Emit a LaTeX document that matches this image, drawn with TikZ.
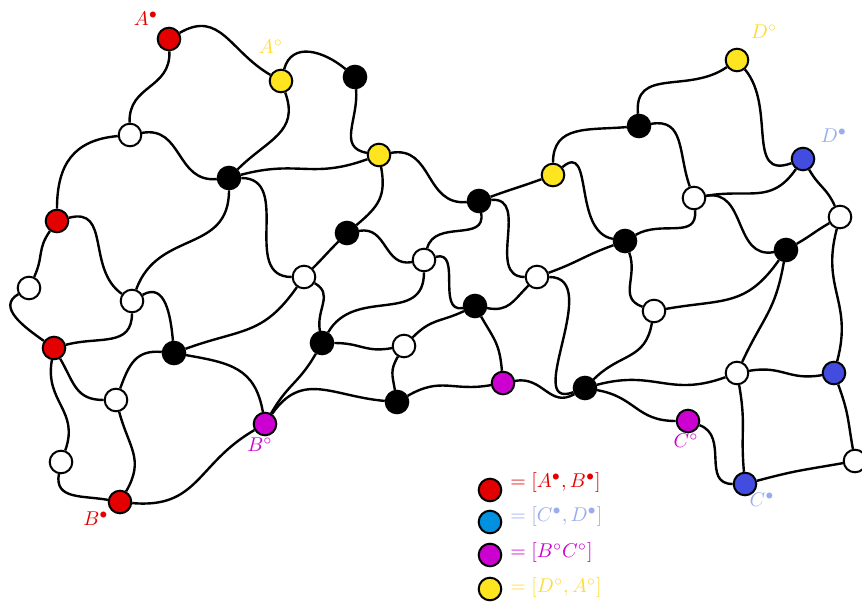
\documentclass[tikz,border=0pt]{standalone}
\usepackage{amsmath,amssymb}
\usepackage{tikz}
\usetikzlibrary{arrows}

\definecolor{nred}{rgb}{0.89,0.0,0.0}
\definecolor{nyellow}{rgb}{1.0,0.9,0.12}
\definecolor{nmag}{rgb}{0.8,0.0,0.82}
\definecolor{nblue}{rgb}{0.26,0.3,0.87}
\definecolor{ncyan}{rgb}{0.0,0.57,0.88}
\definecolor{lblue}{rgb}{0.6,0.68,0.93}
\definecolor{lyellow}{rgb}{1.0,0.86,0.2}

\begin{document}
\begin{tikzpicture}[line join=bevel,
  vtx/.style={circle,draw=black,line width=1bp,minimum size=11.3bp,inner sep=0pt},
  wv/.style={vtx,fill=white},
  kv/.style={vtx,fill=black},
  rv/.style={vtx,fill=nred},
  yv/.style={vtx,fill=nyellow},
  mv/.style={vtx,fill=nmag},
  uv/.style={vtx,fill=nblue},
  cv/.style={vtx,fill=ncyan},
  lnk/.style={line width=1.2bp,looseness=1.2},
  tag/.style={inner sep=1pt}]
\useasboundingbox (0bp,0bp) rectangle (431bp,301.5bp);
\node[rv] (r1) at (84.5bp,282bp) {};
\node[rv] (r2) at (28.5bp,191bp) {};
\node[rv] (r3) at (27bp,127.5bp) {};
\node[rv] (r4) at (60bp,50.5bp) {};
\node[yv] (y1) at (140.5bp,261bp) {};
\node[yv] (y2) at (189.5bp,224bp) {};
\node[yv] (y3) at (276.5bp,214bp) {};
\node[yv] (y4) at (368.5bp,271.5bp) {};
\node[kv] (k1) at (177.5bp,263bp) {};
\node[kv] (k2) at (114.5bp,212.5bp) {};
\node[kv] (k3) at (173.5bp,185bp) {};
\node[kv] (k4) at (239.5bp,201bp) {};
\node[kv] (k5) at (87bp,125bp) {};
\node[kv] (k6) at (161bp,130bp) {};
\node[kv] (k7) at (237.5bp,148.5bp) {};
\node[kv] (k8) at (198.5bp,100.5bp) {};
\node[kv] (k9) at (319.5bp,238.5bp) {};
\node[kv] (k10) at (312.5bp,181bp) {};
\node[kv] (k11) at (393bp,176.5bp) {};
\node[kv] (k12) at (292.5bp,107.5bp) {};
\node[wv] (w1) at (65bp,234bp) {};
\node[wv] (w2) at (14.5bp,157.5bp) {};
\node[wv] (w3) at (66bp,151bp) {};
\node[wv] (w4) at (58bp,101.5bp) {};
\node[wv] (w5) at (30.5bp,70.5bp) {};
\node[wv] (w6) at (152bp,163bp) {};
\node[wv] (w7) at (212bp,171.5bp) {};
\node[wv] (w8) at (202bp,128.5bp) {};
\node[wv] (w9) at (268.5bp,163bp) {};
\node[wv] (w10) at (347bp,202.5bp) {};
\node[wv] (w11) at (420bp,193bp) {};
\node[wv] (w12) at (327bp,146bp) {};
\node[wv] (w13) at (368.5bp,115bp) {};
\node[wv] (w14) at (427.5bp,71bp) {};
\node[mv] (m1) at (132.5bp,89.5bp) {};
\node[mv] (m2) at (251.5bp,110bp) {};
\node[mv] (m3) at (344bp,91bp) {};
\node[uv] (u1) at (401.5bp,222bp) {};
\node[uv] (u2) at (417bp,115bp) {};
\node[uv] (u3) at (372.5bp,59.5bp) {};

\node[tag,text=nred] (tA1) at (73bp,292bp) {$A^\bullet$};
\node[tag,text=lyellow] (tA2) at (135.5bp,278bp) {$A^\circ$};
\node[tag,text=lyellow] (tD2) at (382bp,285.5bp) {$D^\circ$};
\node[tag,text=lblue] (tD1) at (417bp,233.5bp) {$D^\bullet$};
\node[tag,text=nmag] (tB2) at (130bp,79bp) {$B^\circ$};
\node[tag,text=nred] (tB1) at (48bp,42bp) {$B^\bullet$};
\node[tag,text=nmag] (tC2) at (343bp,81bp) {$C^\circ$};
\node[tag,text=lblue] (tC1) at (381bp,51.5bp) {$C^\bullet$};

\draw[lnk] (r1) to[out=30,in=150] (y1);
\draw[lnk] (r1) to[out=-88,in=92] (w1);
\draw[lnk] (w1) to[out=185,in=90] (r2);
\draw[lnk] (w1) to[out=10,in=185] (k2);
\draw[lnk] (y1) to[out=75,in=140] (k1);
\draw[lnk] (y1) to[out=-70,in=45] (k2);
\draw[lnk] (k1) to[out=-85,in=170] (y2);
\draw[lnk] (k2) to[out=15,in=200] (y2);
\draw[lnk] (k2) to[out=0,in=180] (w6);
\draw[lnk] (k2) to[out=-90,in=70] (w3);
\draw[lnk] (r2) to[out=15,in=145] (w3);
\draw[lnk] (r2) to[out=-125,in=65] (w2);
\draw[lnk] (w2) to[out=-150,in=145] (r3);
\draw[lnk] (w3) to[out=30,in=95] (k5);
\draw[lnk] (w3) to[out=-90,in=15] (r3);
\draw[lnk] (r3) to[out=-60,in=180] (w4);
\draw[lnk] (r3) to[out=-100,in=70] (w5);
\draw[lnk] (w4) to[out=70,in=175] (k5);
\draw[lnk] (w4) to[out=-75,in=60] (r4);
\draw[lnk] (w5) to[out=-100,in=170] (r4);
\draw[lnk] (r4) to[out=-5,in=210] (m1);
\draw[lnk] (k5) to[out=20,in=235] (w6);
\draw[lnk] (k5) to[out=-10,in=100] (m1);
\draw[lnk] (m1) to[out=60,in=240] (k6);
\draw[lnk] (m1) to[out=55,in=175] (k8);
\draw[lnk] (w6) to[out=45,in=225] (k3);
\draw[lnk] (w6) to[out=-30,in=100] (k6);
\draw[lnk] (k3) to[out=40,in=-80] (y2);
\draw[lnk] (k3) to[out=10,in=190] (w7);
\draw[lnk] (y2) to[out=10,in=185] (k4);
\draw[lnk] (k4) to[out=20,in=200] (y3);
\draw[lnk] (k4) to[out=5,in=180] (w9);
\draw[lnk] (k4) to[out=-80,in=75] (w7);
\draw[lnk] (w7) to[out=15,in=190] (k7);
\draw[lnk] (w7) to[out=-90,in=60] (k6);
\draw[lnk] (k6) to[out=0,in=190] (w8);
\draw[lnk] (w8) to[out=45,in=205] (k7);
\draw[lnk] (w8) to[out=-120,in=100] (k8);
\draw[lnk] (k7) to[out=-60,in=95] (m2);
\draw[lnk] (k7) to[out=-10,in=225] (w9);
\draw[lnk] (k8) to[out=30,in=190] (m2);
\draw[lnk] (m2) to[out=10,in=210] (k12);
\draw[lnk] (w9) to[out=20,in=200] (k10);
\draw[lnk] (w9) to[out=0,in=200] (k12);
\draw[lnk] (y3) to[out=90,in=185] (k9);
\draw[lnk] (y3) to[out=40,in=170] (k10);
\draw[lnk] (k9) to[out=95,in=215] (y4);
\draw[lnk] (k9) to[out=10,in=110] (w10);
\draw[lnk] (y4) to[out=-50,in=200] (u1);
\draw[lnk] (u1) to[out=-125,in=10] (w10);
\draw[lnk] (u1) to[out=-60,in=115] (w11);
\draw[lnk] (w10) to[out=-85,in=30] (k10);
\draw[lnk] (w10) to[out=10,in=190] (k11);
\draw[lnk] (w11) to[out=210,in=30] (k11);
\draw[lnk] (w11) to[out=-105,in=75] (u2);
\draw[lnk] (k11) to[out=-125,in=10] (w12);
\draw[lnk] (k11) to[out=-100,in=65] (w13);
\draw[lnk] (k10) to[out=-70,in=160] (w12);
\draw[lnk] (w12) to[out=-100,in=45] (k12);
\draw[lnk] (k12) to[out=15,in=200] (w13);
\draw[lnk] (k12) to[out=-10,in=180] (m3);
\draw[lnk] (w13) to[out=10,in=190] (u2);
\draw[lnk] (w13) to[out=-80,in=95] (u3);
\draw[lnk] (m3) to[out=-20,in=180] (u3);
\draw[lnk] (u2) to[out=-70,in=100] (w14);
\draw[lnk] (u3) to[out=15,in=190] (w14);

\node[rv] (g1) at (245bp,56.5bp) {};
\node[cv] (g2) at (245bp,40.5bp) {};
\node[mv] (g3) at (245bp,24bp) {};
\node[yv] (g4) at (245bp,7bp) {};
\node[tag,anchor=west,text=nred] (gt1) at (254bp,60bp) {$=[A^\bullet,B^\bullet]$};
\node[tag,anchor=west,text=lblue] (gt2) at (254bp,43bp) {$=[C^\bullet,D^\bullet]$};
\node[tag,anchor=west,text=nmag] (gt3) at (254bp,25bp) {$=[B^\circ C^\circ]$};
\node[tag,anchor=west,text=lyellow] (gt4) at (254bp,7.5bp) {$=[D^\circ,A^\circ]$};
\end{tikzpicture}
\end{document}
